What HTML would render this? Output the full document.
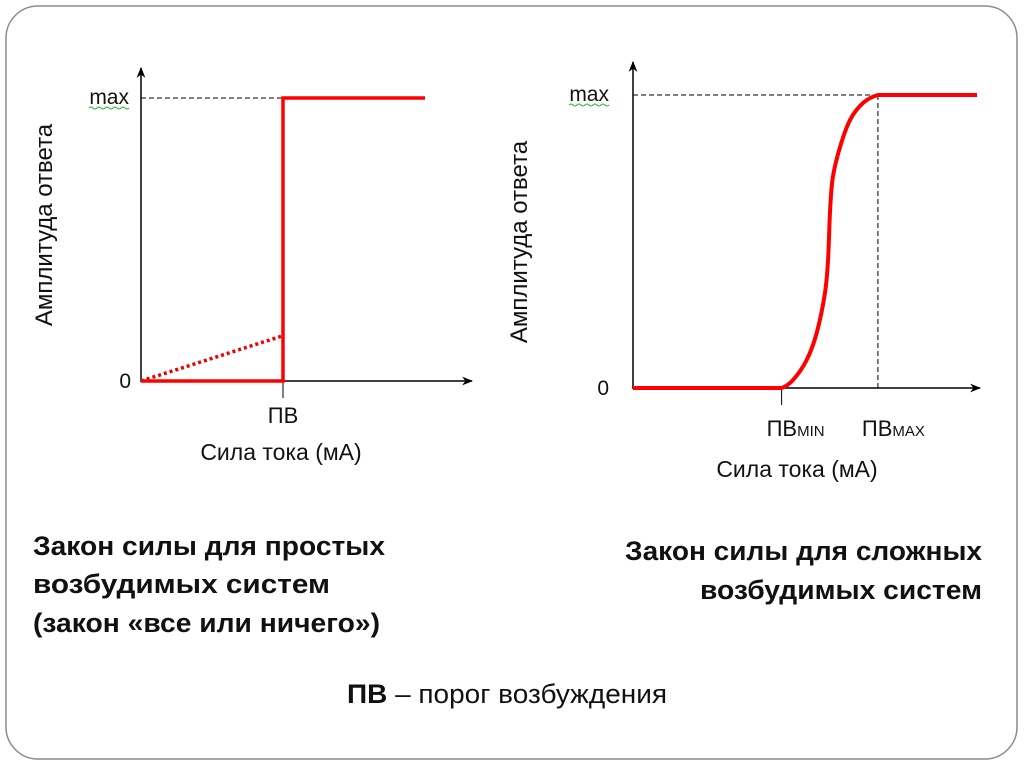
<!DOCTYPE html>
<html><head><meta charset="utf-8">
<style>
html,body{margin:0;padding:0;background:#fff;}
body{width:1024px;height:767px;overflow:hidden;position:relative;font-family:"Liberation Sans",sans-serif;}
svg{position:absolute;left:0;top:0;}
</style></head>
<body>
<svg id="s" width="1024" height="767">
  <rect x="6" y="6" width="1011" height="753" rx="32" fill="#fff" stroke="#8c8c8c" stroke-width="1.5"/>
  <defs>
    <marker id="arr" viewBox="0 0 10 10" refX="9" refY="5" markerWidth="11" markerHeight="11" orient="auto" markerUnits="userSpaceOnUse">
      <path d="M0,1 L10,5 L0,9 L3,5 Z" fill="#000"/>
    </marker>
  </defs>
  <g id="left"></g>
  <g id="right"></g>
  <g font-family="Liberation Sans, sans-serif" font-weight="bold" font-size="27" fill="#111">
    <text x="33" y="555" textLength="352" lengthAdjust="spacingAndGlyphs">Закон силы для простых</text>
    <text x="33" y="593" textLength="297" lengthAdjust="spacingAndGlyphs">возбудимых систем</text>
    <text x="33" y="632" textLength="347" lengthAdjust="spacingAndGlyphs">(закон «все или ничего»)</text>
    <text x="625" y="560" textLength="357" lengthAdjust="spacingAndGlyphs">Закон силы для сложных</text>
    <text x="700" y="599" textLength="282" lengthAdjust="spacingAndGlyphs">возбудимых систем</text>
  </g>
  <text x="347" y="703" textLength="320" lengthAdjust="spacingAndGlyphs" font-size="27" fill="#111"><tspan font-weight="bold">ПВ</tspan> – порог возбуждения</text>
</svg>
<script>
// Left chart data (normalized current 0..1, amplitude 0..1)
const leftStepX = [0, 0.5, 0.5, 1];
const leftStepY = [0, 0, 1, 1];
const leftDotX = [0, 0.5];
const leftDotY = [0, 0.16];
// Right chart data (sigmoid)
const rightX = [0, 0.432, 0.465, 0.505, 0.534, 0.558, 0.567, 0.573, 0.581, 0.602, 0.631, 0.669, 0.712, 1];
const rightY = [0, 0, 0.027, 0.096, 0.188, 0.324, 0.437, 0.608, 0.72, 0.823, 0.915, 0.973, 1, 1];
const rightThreshMin = 0.432, rightThreshMax = 0.712;

const NS = "http://www.w3.org/2000/svg";
function mk(parent, tag, attrs, text){
  const e = document.createElementNS(NS, tag);
  for (const k in attrs) e.setAttribute(k, attrs[k]);
  if (text !== undefined) e.textContent = text;
  parent.appendChild(e);
  return e;
}
function chart(g, cfg){
  const sx = v => cfg.x0 + v * (cfg.x1 - cfg.x0);
  const sy = v => cfg.y0 - v * (cfg.y0 - cfg.yMax);
  let e;
  e = mk(g, "line", {x1:cfg.x0, y1:cfg.y0+1, x2:cfg.x0, y2:cfg.yTop, stroke:"#000", "stroke-width":1.5, "marker-end":"url(#arr)"});
  
  
  e = mk(g, "line", {x1:cfg.x0, y1:cfg.y0, x2:cfg.xEnd, y2:cfg.y0, stroke:"#000", "stroke-width":1.5, "marker-end":"url(#arr)"});
  
  
  e = mk(g, "line", {x1:cfg.x0, y1:sy(1), x2:cfg.maxDashTo, y2:sy(1), stroke:"#000", "stroke-width":1, "stroke-dasharray":"5,3"});
  
  
  e = mk(g, "text", {x:cfg.maxLabelX, y:sy(1)+6, "font-size":21, "text-anchor":"end", fill:"#111"}, "max");
  
  
  e = mk(g, "path", {d:`M${cfg.maxLabelX-40},${sy(1)+10} q2,-2 4,0 t4,0 t4,0 t4,0 t4,0 t4,0 t4,0 t4,0 t4,0 t4,0`, stroke:"#3a3", fill:"none", "stroke-width":1});
  
  
  e = mk(g, "text", {x:cfg.zeroX, y:cfg.y0+7, "font-size":21, "text-anchor":"end", fill:"#111"}, "0");
  
  
  e = mk(g, "text", {x:cfg.ylabX, y:cfg.ylabY, "font-size":24, "text-anchor":"middle", fill:"#111", transform:`rotate(-90 ${cfg.ylabX} ${cfg.ylabY})`}, "Амплитуда ответа");
  
  
  e = mk(g, "text", {x:cfg.xlabX, y:cfg.xlabY, "font-size":23, "text-anchor":"middle", fill:"#111"}, "Сила тока (мА)");
  
  
  return {sx, sy};
}

// Left
const gl = document.getElementById("left");
const L = chart(gl, {x0:141, x1:425, y0:381, yMax:98, yTop:68, xEnd:472, maxDashTo:283, maxLabelX:129, zeroX:131, ylabX:52, ylabY:225, xlabX:281, xlabY:460});
let e;
e = mk(gl, "line", {x1:L.sx(0.5), y1:L.sy(0), x2:L.sx(0.5), y2:L.sy(0)+17, stroke:"#000", "stroke-width":1});


e = mk(gl, "text", {x:L.sx(0.5), y:423, "font-size":22, "text-anchor":"middle", fill:"#111"}, "ПВ");


e = mk(gl, "polyline", {points:leftDotX.map((v,i)=>L.sx(v)+","+L.sy(leftDotY[i])).join(" "), stroke:"#e00", "stroke-width":3.5, fill:"none", "stroke-dasharray":"3,3"});


e = mk(gl, "polyline", {points:leftStepX.map((v,i)=>L.sx(v)+","+L.sy(leftStepY[i])).join(" "), stroke:"#f00", "stroke-width":3.5, fill:"none"});



// Right
const gr = document.getElementById("right");
const R = chart(gr, {x0:633, x1:977, y0:388, yMax:95, yTop:62, xEnd:980, maxDashTo:878, maxLabelX:609, zeroX:609, ylabX:527, ylabY:242, xlabX:797, xlabY:477});
e = mk(gr, "line", {x1:R.sx(rightThreshMin), y1:R.sy(0), x2:R.sx(rightThreshMin), y2:R.sy(0)+17, stroke:"#000", "stroke-width":1});


e = mk(gr, "line", {x1:R.sx(rightThreshMax), y1:R.sy(1), x2:R.sx(rightThreshMax), y2:R.sy(0), stroke:"#000", "stroke-width":1, "stroke-dasharray":"5,3"});


e = mk(gr, "text", {x:R.sx(rightThreshMin)-15, y:436, "font-size":22, fill:"#111"});
e.innerHTML = 'ПВ<tspan font-size="15">MIN</tspan>';


e = mk(gr, "text", {x:R.sx(rightThreshMax)-16, y:436, "font-size":22, fill:"#111"});
e.innerHTML = 'ПВ<tspan font-size="15">MAX</tspan>';


const P = rightX.map((v,i)=>[R.sx(v), R.sy(rightY[i])]);
let d = "M" + P[0][0] + "," + P[0][1];
for (let i = 1; i < P.length; i++) {
  if (rightY[i-1] === rightY[i]) { d += ` L${P[i][0]},${P[i][1]}`; continue; }
  const p1 = P[i-1], p2 = P[i];
  // neighbours: if adjacent segment is flat, use horizontal tangent
  let p0, p3;
  if (i-2 < 0 || rightY[i-2] === rightY[i-1]) p0 = [p1[0] - (p2[0]-p1[0]), p1[1]];
  else p0 = P[i-2];
  if (i+1 >= P.length || rightY[i+1] === rightY[i]) p3 = [p2[0] + (p2[0]-p1[0]), p2[1]];
  else p3 = P[i+1];
  const t = 1/6;
  const c1 = [p1[0]+(p2[0]-p0[0])*t, p1[1]+(p2[1]-p0[1])*t];
  const c2 = [p2[0]-(p3[0]-p1[0])*t, p2[1]-(p3[1]-p1[1])*t];
  d += ` C${c1[0]},${c1[1]} ${c2[0]},${c2[1]} ${p2[0]},${p2[1]}`;
}
e = mk(gr, "path", {d:d, stroke:"#f00", "stroke-width":4, fill:"none", "stroke-linejoin":"round"});


</script>
</body></html>
